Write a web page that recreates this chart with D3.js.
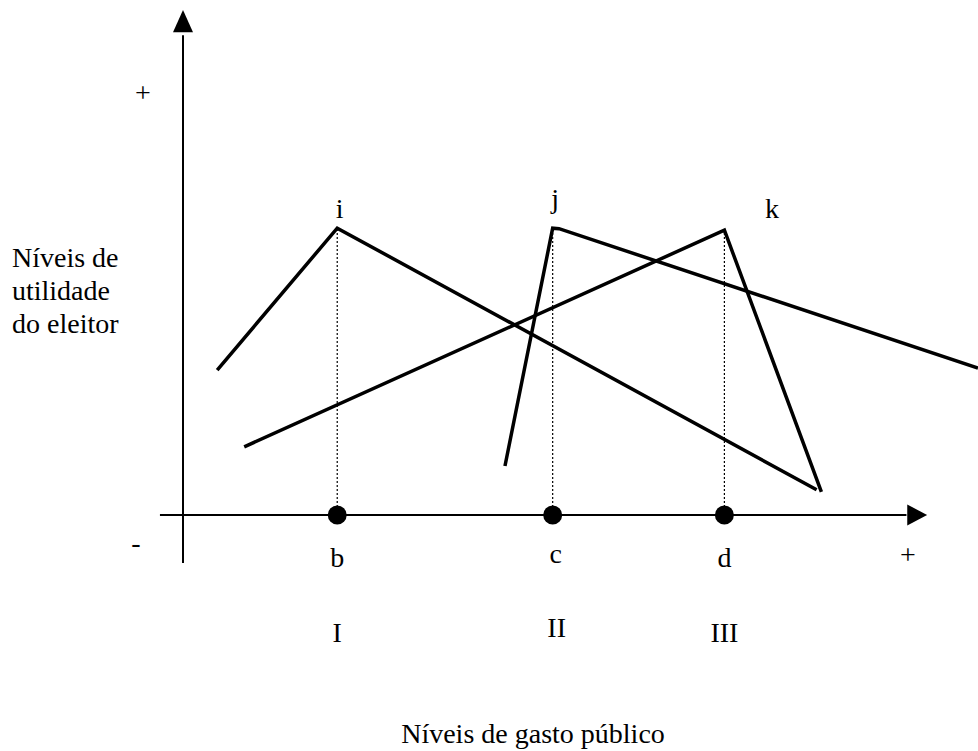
<!DOCTYPE html>
<html>
<head>
<meta charset="utf-8">
<script src="https://cdn.jsdelivr.net/npm/d3@7"></script>
<style>
  body { margin: 0; background: #fff; }
  text { font-family: "Liberation Serif", "Times New Roman", serif; fill: #000; }
</style>
</head>
<body>
<div id="chart"></div>
<script>
// data: voter utility curves (spending level, utility level), 0-100 units
var curveI = [[4.3, 28.7], [19.4, 56.8], [79.7, 5.0]];
var curveJ = [[40.5, 9.7], [46.5, 56.8], [47.3, 56.7], [100, 29.1]];
var curveK = [[7.7, 13.5], [68.1, 56.4], [80.3, 4.6]];

var peakLabels = ["i", "j", "k"];
var peakLabelX = [19.7, 46.8, 74.1];
var peakLabelY = [58.8, 60.8, 58.8];

var idealPoints = ["b", "c", "d"];
var idealX = [19.4, 46.5, 68.1];
var idealPeakY = [56.8, 56.8, 56.4];

var partyLabels = ["I", "II", "III"];

var svgWidth = 978;
var svgHeight = 751;

var svg = d3.select("#chart")
  .append("svg")
  .attr("width", svgWidth)
  .attr("height", svgHeight);

var x = d3.scaleLinear().domain([0, 100]).range([183, 978]);
var y = d3.scaleLinear().domain([0, 100]).range([515, 10]);

// axes
svg.append("line")
  .attr("x1", x(0)).attr("x2", x(0))
  .attr("y1", y(-9.5)).attr("y2", y(95))
  .attr("stroke", "#000").attr("stroke-width", 2);

svg.append("line")
  .attr("x1", x(-2.9)).attr("x2", x(91))
  .attr("y1", y(0)).attr("y2", y(0))
  .attr("stroke", "#000").attr("stroke-width", 2);

// arrow heads
svg.append("path")
  .attr("d", `M${x(0)},${y(100)} L${x(0) - 10},${y(95.6)} L${x(0) + 10},${y(95.6)} Z`)
  .attr("fill", "#000");

svg.append("path")
  .attr("d", `M${x(93.6)},${y(0)} L${x(91.1)},${y(0) - 10.5} L${x(91.1)},${y(0) + 10.5} Z`)
  .attr("fill", "#000");

// dotted guides from peaks down to the axis
svg.selectAll(".guide")
  .data(idealX)
  .enter()
  .append("line")
  .attr("class", "guide")
  .attr("x1", d => x(d)).attr("x2", d => x(d))
  .attr("y1", y(0)).attr("y2", (d, i) => y(idealPeakY[i]))
  .attr("stroke", "#000")
  .attr("stroke-width", 1.2)
  .attr("stroke-dasharray", "2,2");

// utility curves
var line = d3.line()
  .x(d => x(d[0]))
  .y(d => y(d[1]));

svg.selectAll(".curve")
  .data([curveI, curveJ, curveK])
  .enter()
  .append("path")
  .attr("class", "curve")
  .attr("d", line)
  .attr("fill", "none")
  .attr("stroke", "#000")
  .attr("stroke-width", 3.5)
  .attr("stroke-linejoin", "miter");

// ideal points on the axis
svg.selectAll(".dot")
  .data(idealX)
  .enter()
  .append("circle")
  .attr("class", "dot")
  .attr("cx", d => x(d))
  .attr("cy", y(0))
  .attr("r", 9.5)
  .attr("fill", "#000");

var fs = 28;

// peak labels
svg.selectAll(".peak")
  .data(peakLabels)
  .enter()
  .append("text")
  .attr("x", (d, i) => x(peakLabelX[i]))
  .attr("y", (d, i) => y(peakLabelY[i]))
  .attr("text-anchor", "middle")
  .attr("font-size", fs)
  .text(d => d);

// ideal point labels
svg.selectAll(".ideal")
  .data(idealPoints)
  .enter()
  .append("text")
  .attr("x", (d, i) => x(idealX[i]) + (i == 1 ? 3 : 0))
  .attr("y", (d, i) => i == 1 ? 563 : 567)
  .attr("text-anchor", "middle")
  .attr("font-size", fs)
  .text(d => d);

// party labels
svg.selectAll(".party")
  .data(partyLabels)
  .enter()
  .append("text")
  .attr("x", (d, i) => x(idealX[i]) + (i == 1 ? 4 : 0))
  .attr("y", (d, i) => i == 1 ? 637 : 642)
  .attr("text-anchor", "middle")
  .attr("font-size", fs)
  .text(d => d);

// signs
svg.append("text")
  .attr("x", 143).attr("y", 102)
  .attr("text-anchor", "middle")
  .attr("font-size", fs)
  .text("+");

svg.append("text")
  .attr("x", 136).attr("y", 552)
  .attr("text-anchor", "middle")
  .attr("font-size", fs)
  .text("-");

svg.append("text")
  .attr("x", 908).attr("y", 564)
  .attr("text-anchor", "middle")
  .attr("font-size", fs)
  .text("+");

// axis titles
var yTitle = svg.append("text")
  .attr("x", 12)
  .attr("y", 267)
  .attr("font-size", fs);

["Níveis de", "utilidade", "do eleitor"].forEach((t, i) => {
  yTitle.append("tspan")
    .attr("x", 12)
    .attr("dy", i == 0 ? 0 : 33)
    .text(t);
});

svg.append("text")
  .attr("x", 533)
  .attr("y", 743)
  .attr("text-anchor", "middle")
  .attr("font-size", fs)
  .text("Níveis de gasto público");
</script>
</body>
</html>
